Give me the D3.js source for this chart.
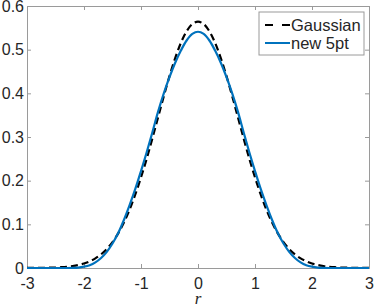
<!DOCTYPE html>
<html>
<head>
<meta charset="utf-8">
<script src="https://cdn.jsdelivr.net/npm/d3@7"></script>
<style>
  body { margin: 0; background: #fff; }
  svg { display: block; }
  text { font-family: "Liberation Sans", Arial, sans-serif; fill: #262626; }
</style>
</head>
<body>
<div id="chart"></div>
<script>
// sample points along r
const rValues = [
  -3.0, -2.9, -2.8, -2.7, -2.6, -2.5, -2.4, -2.3, -2.2, -2.1,
  -2.0, -1.9, -1.8, -1.7, -1.6, -1.5, -1.4, -1.3, -1.2, -1.1,
  -1.0, -0.9, -0.8, -0.7, -0.6, -0.5, -0.4, -0.3, -0.2, -0.1,
  0.0, 0.1, 0.2, 0.3, 0.4, 0.5, 0.6, 0.7, 0.8, 0.9,
  1.0, 1.1, 1.2, 1.3, 1.4, 1.5, 1.6, 1.7, 1.8, 1.9,
  2.0, 2.1, 2.2, 2.3, 2.4, 2.5, 2.6, 2.7, 2.8, 2.9, 3.0
];

// dashed black curve
const gaussianValues = [
  0.0001, 0.0001, 0.0002, 0.0004, 0.0007, 0.0011, 0.0018, 0.0029, 0.0045, 0.0069,
  0.0103, 0.0153, 0.0221, 0.0313, 0.0435, 0.0593, 0.0794, 0.1040, 0.1335, 0.1684,
  0.2076, 0.2503, 0.2971, 0.3455, 0.3936, 0.4394, 0.4808, 0.5156, 0.5421, 0.5586,
  0.5642, 0.5586, 0.5421, 0.5156, 0.4808, 0.4394, 0.3936, 0.3455, 0.2971, 0.2503,
  0.2076, 0.1684, 0.1335, 0.1040, 0.0794, 0.0593, 0.0435, 0.0313, 0.0221, 0.0153,
  0.0103, 0.0069, 0.0045, 0.0029, 0.0018, 0.0011, 0.0007, 0.0004, 0.0002, 0.0001, 0.0001
];

// solid blue curve
const new5ptValues = [
  0, 0, 0, 0, 0, 0, 0, 0, 0.0003, 0.001,
  0.003, 0.0065, 0.013, 0.023, 0.037, 0.056, 0.080, 0.110, 0.144, 0.181,
  0.222, 0.265, 0.311, 0.358, 0.400, 0.437, 0.470, 0.498, 0.521, 0.536,
  0.541, 0.536, 0.521, 0.498, 0.470, 0.437, 0.400, 0.358, 0.311, 0.265,
  0.222, 0.181, 0.144, 0.110, 0.080, 0.056, 0.037, 0.023, 0.013, 0.0065,
  0.003, 0.001, 0.0003, 0, 0, 0, 0, 0, 0, 0, 0
];

const xTicks = [-3, -2, -1, 0, 1, 2, 3];
const yTicks = [0, 0.1, 0.2, 0.3, 0.4, 0.5, 0.6];
const seriesNames = ["Gaussian", "new 5pt"];

const width = 374, height = 308;
const margin = { top: 6, right: 5, bottom: 40, left: 27 };
const innerW = width - margin.left - margin.right;
const innerH = height - margin.top - margin.bottom;

const svg = d3.select("#chart").append("svg")
  .attr("width", width)
  .attr("height", height);

const g = svg.append("g")
  .attr("transform", `translate(${margin.left},${margin.top})`);

const x = d3.scaleLinear().domain([-3, 3]).range([0, innerW]);
const y = d3.scaleLinear().domain([0, 0.6]).range([innerH, 0]);

const tickLen = 4;
const axisColor = "#9a9a9a";

// axes, ticks pointing inward (box on)
const bottomAxis = g.append("g").attr("transform", `translate(0,${innerH})`)
  .call(d3.axisBottom(x).tickValues(xTicks).tickSize(-tickLen).tickPadding(10)
    .tickFormat(d => String(d)));
const topAxis = g.append("g")
  .call(d3.axisTop(x).tickValues(xTicks).tickSize(-tickLen).tickFormat(""));
const leftAxis = g.append("g")
  .call(d3.axisLeft(y).tickValues(yTicks).tickSize(-tickLen).tickPadding(3)
    .tickFormat(d => d === 0 ? "0" : d3.format(".1f")(d)));
const rightAxis = g.append("g").attr("transform", `translate(${innerW},0)`)
  .call(d3.axisRight(y).tickValues(yTicks).tickSize(-tickLen).tickFormat(""));

[bottomAxis, topAxis, leftAxis, rightAxis].forEach(a => {
  a.select(".domain").attr("stroke", axisColor);
  a.selectAll(".tick line").attr("stroke", axisColor);
  a.selectAll(".tick text").attr("font-size", 16).attr("fill", "#262626")
    .style("font-family", "'Liberation Sans', Arial, sans-serif");
});

// curves
const pts = (vals) => rValues.map((r, i) => [r, vals[i]]);
const line = d3.line()
  .x(d => x(d[0]))
  .y(d => y(d[1]))
  .curve(d3.curveCatmullRom);

g.append("path")
  .datum(pts(gaussianValues))
  .attr("fill", "none")
  .attr("stroke", "#000")
  .attr("stroke-width", 2.2)
  .attr("stroke-dasharray", "7,4")
  .attr("d", line);

g.append("path")
  .datum(pts(new5ptValues))
  .attr("fill", "none")
  .attr("stroke", "#0072BD")
  .attr("stroke-width", 2.2)
  .attr("d", line);

// x label
svg.append("text")
  .attr("x", margin.left + x(0))
  .attr("y", 304)
  .attr("text-anchor", "middle")
  .attr("font-size", 17)
  .style("font-family", "'Liberation Serif', 'Times New Roman', serif")
  .style("font-style", "italic")
  .text("r");

// legend
const legend = svg.append("g").attr("transform", "translate(259,12)");
legend.append("rect")
  .attr("width", 105).attr("height", 43)
  .attr("fill", "#fff").attr("stroke", axisColor);

const legendStyles = [
  { color: "#000", dash: "8,9" },
  { color: "#0072BD", dash: null }
];
seriesNames.forEach((name, i) => {
  const cy = 13 + i * 18;
  legend.append("line")
    .attr("x1", 6).attr("x2", 31)
    .attr("y1", cy).attr("y2", cy)
    .attr("stroke", legendStyles[i].color)
    .attr("stroke-width", 2)
    .attr("stroke-dasharray", legendStyles[i].dash);
  legend.append("text")
    .attr("x", 32).attr("y", cy)
    .attr("dy", "0.35em")
    .attr("font-size", 16.5)
    .text(name);
});
</script>
</body>
</html>
